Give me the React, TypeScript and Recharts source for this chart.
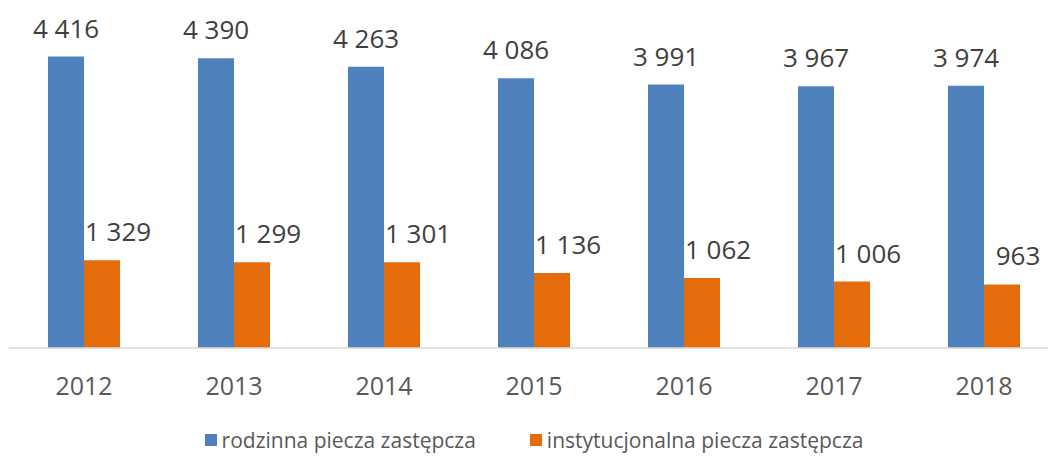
import { Bar, BarChart, LabelList, Legend, XAxis, YAxis } from "recharts";

const years = ["2012", "2013", "2014", "2015", "2016", "2017", "2018"];
const rodzinna = [4416, 4390, 4263, 4086, 3991, 3967, 3974];
const instytucjonalna = [1329, 1299, 1301, 1136, 1062, 1006, 963];

const SERIES = [
  { key: "rodzinna", name: "rodzinna piecza zastępcza", color: "#4F81BD" },
  { key: "instytucjonalna", name: "instytucjonalna piecza zastępcza", color: "#E46C0A" },
];

const FONT = "'Open Sans', 'Liberation Sans', sans-serif";

const data = years.map((year, i) => ({
  year,
  rodzinna: rodzinna[i],
  instytucjonalna: instytucjonalna[i],
}));

function formatValue(v: unknown): string {
  return String(v).replace(/\B(?=(\d{3})+(?!\d))/g, " ");
}

// Excel put the orange labels a little to the right of their bars
function makeLabel(shift: number) {
  return (props: any) => {
    const { x, y, width, value } = props;
    return (
      <text
        x={Number(x) + Number(width) / 2 + shift}
        y={Number(y) - 19}
        textAnchor="middle"
        fontFamily={FONT}
        fontSize={26}
        fill="#404040"
      >
        {formatValue(value)}
      </text>
    );
  };
}

function renderLegend() {
  return (
    <div
      style={{
        height: 40,
        display: "flex",
        justifyContent: "center",
        alignItems: "center",
        paddingTop: 8,
        boxSizing: "border-box",
        fontFamily: FONT,
        fontSize: 21,
        color: "#595959",
      }}
    >
      {SERIES.map((s, i) => (
        <div
          key={s.key}
          style={{ display: "flex", alignItems: "center", marginLeft: i > 0 ? 54 : 0 }}
        >
          <span style={{ width: 12, height: 12, background: s.color, marginRight: 5 }} />
          <span>{s.name}</span>
        </div>
      ))}
    </div>
  );
}

export default function App() {
  return (
    <div
      style={{
        position: "absolute",
        left: 0,
        top: 0,
        width: 1048,
        height: 456,
        overflow: "hidden",
        background: "#fff",
      }}
    >
      <BarChart
        width={1060}
        height={456}
        data={data}
        margin={{ top: 18, right: 1, left: 9, bottom: 0 }}
        barCategoryGap="26%"
        barGap={0}
      >
        <XAxis
          dataKey="year"
          height={68}
          tickLine={false}
          tickSize={0}
          tickMargin={29}
          axisLine={{ stroke: "#D9D9D9", strokeWidth: 1.5 }}
          tick={{ fontFamily: FONT, fontSize: 25, fill: "#595959" }}
        />
        <YAxis hide domain={[0, 5000]} />
        <Legend verticalAlign="bottom" height={40} content={renderLegend} />
        {SERIES.map((s) => (
          <Bar
            key={s.key}
            dataKey={s.key}
            name={s.name}
            fill={s.color}
            isAnimationActive={false}
          >
            <LabelList
              dataKey={s.key}
              content={makeLabel(s.key === "instytucjonalna" ? 16 : 0)}
            />
          </Bar>
        ))}
      </BarChart>
    </div>
  );
}
